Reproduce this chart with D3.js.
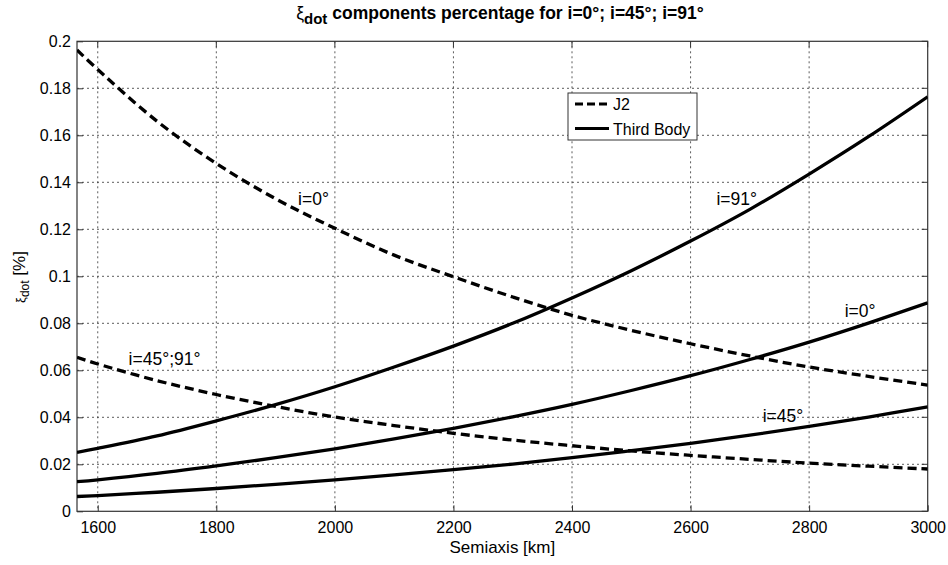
<!DOCTYPE html>
<html><head><meta charset="utf-8">
<script src="https://cdn.jsdelivr.net/npm/d3@7"></script>
<style>body{margin:0;background:#fff;} text{font-family:Arial,"Liberation Sans",sans-serif;}</style>
</head><body><svg id="c" width="948" height="565"></svg>
<script>
const semiaxis = [1565,1600,1700,1800,1900,2000,2100,2200,2300,2400,2500,2600,2700,2800,2900,3000];
const j2_i0    = [0.1963,0.188,0.166,0.148,0.133,0.1204,0.109,0.0998,0.0912,0.0834,0.0770,0.0713,0.0661,0.0614,0.0574,0.0537];
const j2_i45_91= [0.0655,0.0627,0.0556,0.0497,0.0446,0.0401,0.0365,0.0332,0.0303,0.0279,0.0257,0.0238,0.0221,0.0205,0.0192,0.0180];
const tb_i91   = [0.0251,0.0268,0.0321,0.0385,0.0454,0.0530,0.0614,0.0703,0.0800,0.0908,0.1024,0.1150,0.1285,0.1435,0.1594,0.1764];
const tb_i0    = [0.0126,0.0134,0.0161,0.0193,0.0228,0.0266,0.0308,0.0353,0.0402,0.0455,0.0514,0.0577,0.0646,0.0720,0.0801,0.0887];
const tb_i45   = [0.0063,0.0067,0.0081,0.0097,0.0115,0.0134,0.0155,0.0177,0.0201,0.0228,0.0258,0.0289,0.0324,0.0361,0.0401,0.0444];
const xTicks = [1600,1800,2000,2200,2400,2600,2800,3000];
const yTicks = [0,0.02,0.04,0.06,0.08,0.1,0.12,0.14,0.16,0.18,0.2];
const seriesList = [
  {name:"J2", values:j2_i0, dashed:true},
  {name:"J2", values:j2_i45_91, dashed:true},
  {name:"Third Body", values:tb_i91, dashed:false},
  {name:"Third Body", values:tb_i0, dashed:false},
  {name:"Third Body", values:tb_i45, dashed:false}
];
const annotations = [
  {text:"i=0°", x:1990, y:0.1303, anchor:"end"},
  {text:"i=91°", x:2712, y:0.1303, anchor:"end"},
  {text:"i=0°", x:2860, y:0.0827, anchor:"start"},
  {text:"i=45°", x:2790, y:0.0380, anchor:"end"},
  {text:"i=45°;91°", x:1652, y:0.0623, anchor:"start"}
];

const L=77, R=927.7, T=41.3, B=511.3;
const svg = d3.select("#c");
const x = d3.scaleLinear().domain([1565,3000]).range([L,R]);
const y = d3.scaleLinear().domain([0,0.2]).range([B,T]);

// grid
const grid = svg.append("g");
xTicks.forEach(t=>{ if(x(t)<R-1) grid.append("line").attr("x1",x(t)).attr("x2",x(t)).attr("y1",T).attr("y2",B)
  .attr("stroke","#333").attr("stroke-width",0.8).attr("stroke-dasharray","2,3"); });
yTicks.forEach(t=>{ if(y(t)>T+1 && y(t)<B-1) grid.append("line").attr("x1",L).attr("x2",R).attr("y1",y(t)).attr("y2",y(t))
  .attr("stroke","#333").attr("stroke-width",0.8).attr("stroke-dasharray","2,3"); });

// axes
const xAxis = d3.axisBottom(x).tickValues(xTicks).tickSize(-6).tickPadding(10).tickFormat(d3.format("d"));
const yAxis = d3.axisLeft(y).tickValues(yTicks).tickSize(-6).tickPadding(6).tickFormat(d=>d===0?"0":String(+d.toFixed(2)));
const gx = svg.append("g").attr("transform",`translate(0,${B})`).call(xAxis);
const gy = svg.append("g").attr("transform",`translate(${L},0)`).call(yAxis);
[gx,gy].forEach(g=>{ g.select(".domain").remove(); g.selectAll("text").attr("font-size",16).attr("fill","#000");
  g.selectAll("line").attr("stroke","#333"); });
gx.selectAll("text").attr("dy","0.71em");
// top/right ticks
xTicks.forEach(t=>svg.append("line").attr("x1",x(t)).attr("x2",x(t)).attr("y1",T).attr("y2",T+6).attr("stroke","#333"));
yTicks.forEach(t=>svg.append("line").attr("x1",R).attr("x2",R-6).attr("y1",y(t)).attr("y2",y(t)).attr("stroke","#333"));
svg.append("rect").attr("x",L).attr("y",T).attr("width",R-L).attr("height",B-T).attr("fill","none").attr("stroke","#333").attr("stroke-width",1.2);

// lines
const line = d3.line().x((d,i)=>x(semiaxis[i])).y(d=>y(d)).curve(d3.curveCatmullRom);
svg.append("clipPath").attr("id","pc").append("rect").attr("x",L).attr("y",T).attr("width",R-L).attr("height",B-T);
seriesList.forEach(s=>{
  svg.append("path").attr("d",line(s.values)).attr("fill","none").attr("stroke","#000")
    .attr("stroke-width",3.3).attr("clip-path","url(#pc)")
    .attr("stroke-dasharray", s.dashed? "9,5":null);
});

// annotations
annotations.forEach(a=>{
  svg.append("text").attr("x",x(a.x)).attr("y",y(a.y)).attr("text-anchor",a.anchor)
    .attr("font-size",17.5).attr("fill","#000").text(a.text);
});

// legend
const lg = svg.append("g");
lg.append("rect").attr("x",568).attr("y",93).attr("width",129).attr("height",47).attr("fill","#fff").attr("stroke","#333").attr("stroke-width",1);
lg.append("line").attr("x1",575).attr("x2",609).attr("y1",104).attr("y2",104).attr("stroke","#000").attr("stroke-width",3).attr("stroke-dasharray","8,4");
lg.append("line").attr("x1",575).attr("x2",609).attr("y1",128.5).attr("y2",128.5).attr("stroke","#000").attr("stroke-width",3);
lg.append("text").attr("x",613).attr("y",110).attr("font-size",16).text("J2");
lg.append("text").attr("x",613).attr("y",134.5).attr("font-size",16).text("Third Body");

// title
const title = svg.append("text").attr("x",500).attr("y",19).attr("text-anchor","middle").attr("font-size",17.5).attr("font-weight","bold");
title.append("tspan").attr("font-weight","normal").text("ξ");
title.append("tspan").attr("dy",5).attr("font-size",15).text("dot");
title.append("tspan").attr("dy",-5).text(" components percentage for i=0°; i=45°; i=91°");

// axis labels
svg.append("text").attr("x",(L+R)/2).attr("y",553).attr("text-anchor","middle").attr("font-size",17).text("Semiaxis [km]");
const yl = svg.append("text").attr("transform","translate(25,277) rotate(-90)").attr("text-anchor","middle").attr("font-size",17);
yl.append("tspan").attr("font-size",13).text("ξ");
yl.append("tspan").attr("dy",4).attr("font-size",12).text("dot");
yl.append("tspan").attr("dy",-4).text(" [%]");
</script></body></html>
